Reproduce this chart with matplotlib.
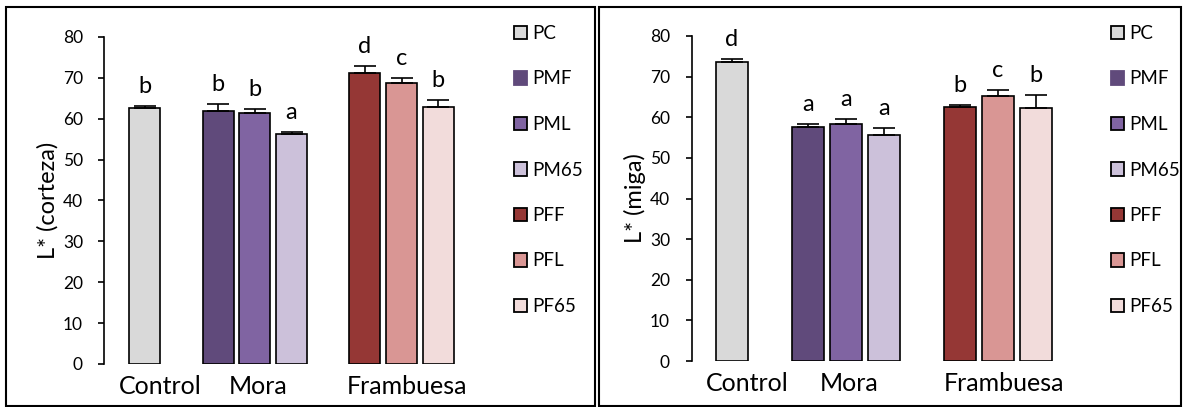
import matplotlib.pyplot as plt
from matplotlib.patches import Rectangle, Patch

plt.rcParams['font.family'] = ['Lato', 'DejaVu Sans']

# treatments and bar colours
labels = ['PC', 'PMF', 'PML', 'PM65', 'PFF', 'PFL', 'PF65']
colors = ['#d9d9d9', '#604a7b', '#8064a2', '#ccc1da', '#953735', '#d99694', '#f2dcdb']
xpos = [0, 2, 3, 4, 6, 7, 8]

groups = ['Control', 'Mora', 'Frambuesa']
group_pos = [0.42, 3.1, 7.15]

# L* corteza
corteza = [62.7, 62.0, 61.4, 56.2, 71.1, 68.7, 62.9]
corteza_err = [0.4, 1.5, 0.9, 0.6, 1.8, 1.3, 1.7]
corteza_let = ['b', 'b', 'b', 'a', 'd', 'c', 'b']

# L* miga
miga = [73.7, 57.5, 58.4, 55.7, 62.5, 65.3, 62.3]
miga_err = [0.7, 0.8, 1.2, 1.6, 0.4, 1.4, 3.2]
miga_let = ['d', 'a', 'a', 'a', 'b', 'c', 'b']

W, H = 1184, 407
fig = plt.figure(figsize=(W / 100, H / 100), dpi=100)


def panel(rect, xl, vals, errs, lets, ylabel):
    ax = fig.add_axes(rect)
    ax.bar(xpos, vals, width=0.84, color=colors, edgecolor='black', linewidth=1.2,
           yerr=[[0] * len(errs), errs], capsize=8,
           error_kw=dict(ecolor='black', elinewidth=1.2, capthick=1.2))
    for x, v, e, t in zip(xpos, vals, errs, lets):
        ax.text(x, v + e + 3.2, t, ha='center', va='baseline', fontsize=17)
    ax.set_xlim(*xl)
    ax.set_ylim(0, 80)
    ax.set_yticks(range(0, 81, 10))
    ax.tick_params(axis='y', direction='out', length=4.5, width=1.2, pad=11, labelsize=12.5)
    ax.set_xticks(group_pos)
    ax.set_xticklabels(groups, fontsize=18)
    ax.tick_params(axis='x', length=0, pad=8)
    for s in ['top', 'right', 'bottom']:
        ax.spines[s].set_visible(False)
    ax.spines['left'].set_linewidth(1.2)
    ax.set_ylabel(ylabel, fontsize=17, labelpad=3)
    return ax


panel([104.5 / W, 43 / H, 374 / W, 327 / H], (-1.1, 9.1),
      corteza, corteza_err, corteza_let, 'L* (corteza)')
panel([691.5 / W, 46 / H, 384.6 / W, 325 / H], (-1.06, 9.06),
      miga, miga_err, miga_let, 'L* (miga)')


def legend(x0):
    handles = []
    for lab, c in zip(labels, colors):
        ec = c if lab == 'PMF' else 'black'
        handles.append(Patch(facecolor=c, edgecolor=ec, linewidth=1.3, label=lab))
    fig.legend(handles=handles, loc='upper left', bbox_to_anchor=(x0 / W, 1 - 25 / H),
               frameon=False, fontsize=13.5, handlelength=0.7, handleheight=0.7,
               handletextpad=0.27, labelspacing=1.52, borderpad=0, borderaxespad=0)


legend(514)
legend(1111)

# panel borders
fig.add_artist(Rectangle((6 / W, 1.5 / H), 589 / W, 398.5 / H, transform=fig.transFigure,
                         fill=False, edgecolor='black', linewidth=1.5))
fig.add_artist(Rectangle((599 / W, 1.5 / H), 582 / W, 398.5 / H, transform=fig.transFigure,
                         fill=False, edgecolor='black', linewidth=1.5))

fig.savefig('out.png', dpi=100)
